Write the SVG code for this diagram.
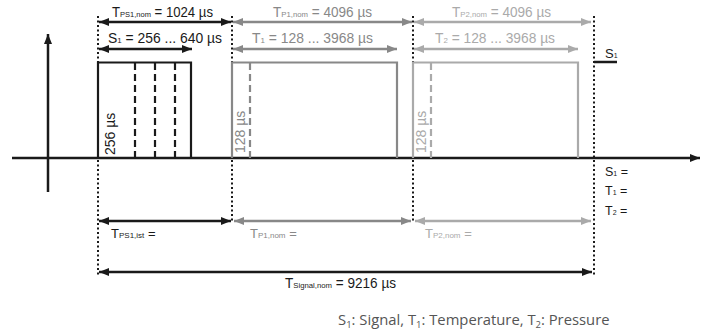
<svg xmlns="http://www.w3.org/2000/svg" width="710" height="331" viewBox="0 0 710 331">
<style>
.lbl{font-family:"Liberation Sans Narrow","Liberation Sans",Arial,sans-serif;font-size:14px}
.sm{font-size:8px}
.bl{font-family:"Liberation Sans Narrow","Liberation Sans",Arial,sans-serif;font-size:13px}
.rl{font-family:"Liberation Sans Narrow","Liberation Sans",Arial,sans-serif;font-size:12.5px}
.sm2{font-size:7px}
.k{fill:#1a1a1a}.g1{fill:#888}.g2{fill:#aaa}
.dot{stroke:#1a1a1a;stroke-width:2;stroke-dasharray:2 2.5;fill:none}
.axis{stroke:#1a1a1a;stroke-width:2.5;fill:none}
.ak{stroke:#1a1a1a;stroke-width:2.5;fill:none}
.a1{stroke:#888;stroke-width:2.5;fill:none}
.a2{stroke:#aaa;stroke-width:2.5;fill:none}
.leg{font-family:"Open Sans",sans-serif;font-size:14.8px;fill:#555}
</style>
<defs>
<marker id="mk" viewBox="0 0 10 8" refX="10" refY="4" markerWidth="10" markerHeight="8" markerUnits="userSpaceOnUse" orient="auto-start-reverse"><path d="M0,0 L10,4 L0,8 z" fill="#1a1a1a"/></marker>
<marker id="m1" viewBox="0 0 10 8" refX="10" refY="4" markerWidth="10" markerHeight="8" markerUnits="userSpaceOnUse" orient="auto-start-reverse"><path d="M0,0 L10,4 L0,8 z" fill="#888"/></marker>
<marker id="m2" viewBox="0 0 10 8" refX="10" refY="4" markerWidth="10" markerHeight="8" markerUnits="userSpaceOnUse" orient="auto-start-reverse"><path d="M0,0 L10,4 L0,8 z" fill="#aaa"/></marker>
</defs>

<g id="axes">
<line class="axis" x1="48" y1="192" x2="48" y2="34" marker-end="url(#mk)"/>
<line class="axis" x1="12" y1="158" x2="700" y2="158" marker-end="url(#mk)"/>
</g>

<g id="dotted">
<line class="dot" x1="98" y1="16" x2="98" y2="276"/>
<line class="dot" x1="232" y1="16" x2="232" y2="222"/>
<line class="dot" x1="413" y1="16" x2="413" y2="222"/>
<line class="dot" x1="594" y1="16" x2="594" y2="276"/>
</g>

<g id="pulse-s1">
<polyline points="98,158 98,62.5 191,62.5 191,158" fill="none" stroke="#1a1a1a" stroke-width="2.2"/>
<g stroke="#1a1a1a" stroke-width="2.2" stroke-dasharray="7 4">
<line x1="135" y1="63" x2="135" y2="158"/>
<line x1="155" y1="63" x2="155" y2="158"/>
<line x1="175" y1="63" x2="175" y2="158"/>
</g>
<text class="lbl k" transform="translate(115,155) rotate(-90)">256 µs</text>
</g>

<g id="pulse-t1">
<polyline points="232,158 232,62.5 397,62.5 397,158" fill="none" stroke="#888" stroke-width="2.2"/>
<line x1="250" y1="63" x2="250" y2="158" stroke="#888" stroke-width="2.2" stroke-dasharray="7 4"/>
<text class="lbl g1" transform="translate(245,153) rotate(-90)">128 µs</text>
</g>

<g id="pulse-t2">
<polyline points="413,158 413,62.5 578,62.5 578,158" fill="none" stroke="#aaa" stroke-width="2.2"/>
<line x1="431" y1="63" x2="431" y2="158" stroke="#aaa" stroke-width="2.2" stroke-dasharray="7 4"/>
<text class="lbl g2" transform="translate(426,153) rotate(-90)">128 µs</text>
</g>

<g id="connectors">
<line class="ak" x1="99" y1="22" x2="231" y2="22" marker-start="url(#mk)" marker-end="url(#mk)"/>
<line class="a1" x1="233" y1="22" x2="412" y2="22" marker-start="url(#m1)" marker-end="url(#m1)"/>
<line class="a2" x1="414" y1="22" x2="591" y2="22" marker-start="url(#m2)" marker-end="url(#m2)"/>
<line class="ak" x1="99" y1="49" x2="192" y2="49" marker-start="url(#mk)" marker-end="url(#mk)"/>
<line class="a1" x1="233" y1="49" x2="397" y2="49" marker-start="url(#m1)" marker-end="url(#m1)"/>
<line class="a2" x1="414" y1="49" x2="578" y2="49" marker-start="url(#m2)" marker-end="url(#m2)"/>
<line class="ak" x1="99" y1="221" x2="231" y2="221" marker-start="url(#mk)" marker-end="url(#mk)"/>
<line class="a1" x1="234" y1="221" x2="411" y2="221" marker-start="url(#m1)" marker-end="url(#m1)"/>
<line class="a2" x1="415" y1="221" x2="591" y2="221" marker-start="url(#m2)" marker-end="url(#m2)"/>
<line class="ak" x1="99" y1="272" x2="592" y2="272" marker-start="url(#mk)" marker-end="url(#mk)"/>
</g>

<g id="labels">
<text class="lbl k" x="112" y="17" textLength="101" lengthAdjust="spacingAndGlyphs">T<tspan class="sm">PS1,nom</tspan> = 1024 µs</text>
<text class="lbl k" x="108" y="43" textLength="114" lengthAdjust="spacingAndGlyphs">S<tspan class="sm">1</tspan> = 256 ... 640 µs</text>
<text class="lbl g1" x="273" y="17" textLength="99" lengthAdjust="spacingAndGlyphs">T<tspan class="sm">P1,nom</tspan> = 4096 µs</text>
<text class="lbl g1" x="252" y="43" textLength="121" lengthAdjust="spacingAndGlyphs">T<tspan class="sm">1</tspan> = 128 ... 3968 µs</text>
<text class="lbl g2" x="452" y="17" textLength="99" lengthAdjust="spacingAndGlyphs">T<tspan class="sm">P2,nom</tspan> = 4096 µs</text>
<text class="lbl g2" x="435" y="43" textLength="120" lengthAdjust="spacingAndGlyphs">T<tspan class="sm">2</tspan> = 128 ... 3968 µs</text>
<text class="bl k" x="111" y="238">T<tspan class="sm">PS1,ist</tspan> =</text>
<text class="bl g1" x="250" y="238">T<tspan class="sm">P1,nom</tspan> =</text>
<text class="bl g2" x="425" y="238">T<tspan class="sm">P2,nom</tspan> =</text>
<text class="lbl k" x="285" y="288" textLength="111" lengthAdjust="spacingAndGlyphs">T<tspan class="sm">Signal,nom</tspan> = 9216 µs</text>
</g>

<g id="legend-right">
<line x1="594" y1="62" x2="617" y2="62" stroke="#1a1a1a" stroke-width="2.5"/>
<text class="rl k" x="605" y="58" style="font-size:13px">S<tspan class="sm2">1</tspan></text>
<text class="rl k" x="605" y="176">S<tspan class="sm2">1</tspan> =</text>
<text class="rl k" x="605" y="195">T<tspan class="sm2">1</tspan> =</text>
<text class="rl k" x="605" y="215">T<tspan class="sm2">2</tspan> =</text>
</g>

<g id="legend">
<text class="leg" x="338" y="325">S<tspan font-size="9.5" dy="3">1</tspan><tspan dy="-3">: Signal, T</tspan><tspan font-size="9.5" dy="3">1</tspan><tspan dy="-3">: Temperature, T</tspan><tspan font-size="9.5" dy="3">2</tspan><tspan dy="-3">: Pressure</tspan></text>
</g>
</svg>
